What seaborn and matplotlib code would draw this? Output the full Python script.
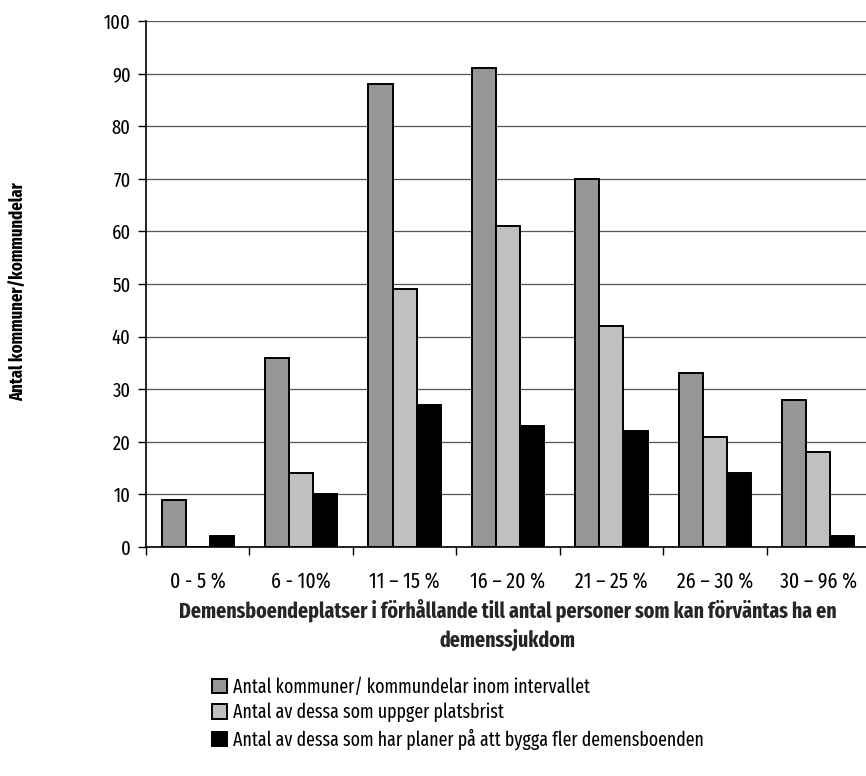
import matplotlib
matplotlib.use("Agg")
import matplotlib.pyplot as plt
from matplotlib.patches import Patch
import seaborn as sns
import pandas as pd

categories = ["0 - 5 %", "6 - 10%", "11 – 15 %", "16 – 20 %", "21 – 25 %", "26 – 30 %", "30 – 96 %"]
series_names = [
    "Antal kommuner/ kommundelar inom intervallet",
    "Antal av dessa som uppger platsbrist",
    "Antal av dessa som har planer på att bygga fler demensboenden",
]
antal_kommuner = [9, 36, 88, 91, 70, 33, 28]
antal_platsbrist = [0, 14, 49, 61, 42, 21, 18]
antal_planer = [2, 10, 27, 23, 22, 14, 2]
colors = ["#969696", "#c0c0c0", "#000000"]
y_ticks = list(range(0, 101, 10))

sns.set_theme(style="white")
plt.rcParams["font.family"] = ["Fira Sans Extra Condensed", "DejaVu Sans"]
plt.rcParams["text.color"] = "black"
plt.rcParams["xtick.color"] = "black"
plt.rcParams["ytick.color"] = "black"

rows = []
for name, vals in zip(series_names, [antal_kommuner, antal_platsbrist, antal_planer]):
    for cat, v in zip(categories, vals):
        rows.append({"Intervall": cat, "Serie": name, "Antal": v})
df = pd.DataFrame(rows)

fig = plt.figure(figsize=(8.66, 7.76), dpi=100)
ax = fig.add_axes([146 / 866, 1 - 547 / 776, (870 - 146) / 866, (547 - 21) / 776])

sns.barplot(data=df, x="Intervall", y="Antal", hue="Serie", order=categories,
            hue_order=series_names, palette=colors, width=0.7, ax=ax,
            edgecolor="black", linewidth=1.4, legend=False, errorbar=None,
            saturation=1, zorder=3)

ax.set_ylim(0, 100)
ax.set_xlim(-0.5, len(categories) - 0.5)
ax.set_yticks(y_ticks)
ax.yaxis.grid(True, color="#555555", linewidth=0.9, zorder=0)
ax.set_axisbelow(True)
for side in ["right", "top"]:
    ax.spines[side].set_visible(False)
for side in ["left", "bottom"]:
    ax.spines[side].set_color("black")
    ax.spines[side].set_linewidth(1.2)

# tick marks sit between categories on the x axis
ax.set_xticks([i - 0.5 for i in range(len(categories) + 1)], minor=False)
ax.set_xticklabels([])
ax.set_xticks(range(len(categories)), minor=True)
ax.set_xticklabels(categories, minor=True, fontsize=15.5)
ax.tick_params(axis="x", which="major", direction="out", length=6, width=1, color="black", bottom=True)
ax.tick_params(axis="x", which="minor", length=0, pad=18)
ax.tick_params(axis="y", direction="out", length=6, width=1, color="black", left=True, labelsize=14.5, pad=5)

ax.set_xlabel("Demensboendeplatser i förhållande till antal personer som kan förväntas ha en\ndemenssjukdom",
              fontsize=15.6, fontweight="bold", labelpad=4, linespacing=1.35)
ax.set_ylabel("")
fig.text(18 / 866, 1 - 292 / 776, "Antal kommuner/kommundelar", rotation=90,
         ha="center", va="center", fontsize=13, fontweight="bold")

handles = [Patch(facecolor=c, edgecolor="black", linewidth=1.4) for c in colors]
fig.legend(handles, series_names, loc="upper left", bbox_to_anchor=(212 / 866, 1 - 677 / 776),
           frameon=False, fontsize=14, handlelength=0.75, handleheight=0.75,
           handletextpad=0.35, labelspacing=0.32, borderaxespad=0, borderpad=0)

fig.savefig("out.png", dpi=100)
